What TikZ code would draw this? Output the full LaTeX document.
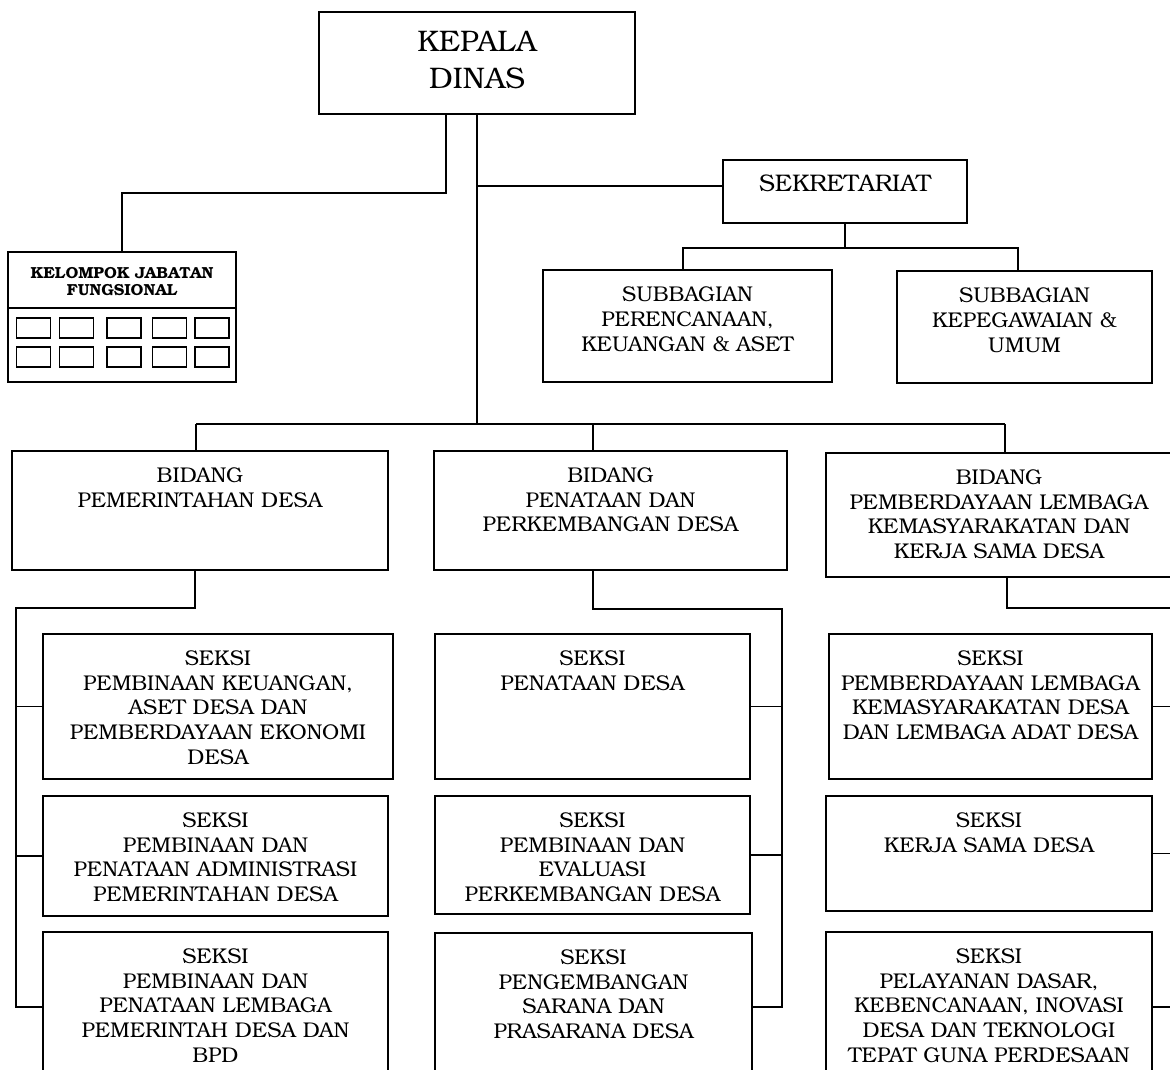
\documentclass[tikz,border=0pt]{standalone}
\usepackage{fontspec}
\setmainfont{TeX Gyre Bonum}
\begin{document}
\begin{tikzpicture}[x=0.75pt,y=-0.75pt,
  bx/.style 2 args={draw, line width=1.3pt, inner sep=0pt, minimum width=#1*0.75pt, minimum height=#2*0.75pt},
  lbl/.style={font=\fontsize{16pt}{18.6pt}\selectfont, align=center, inner sep=0pt, anchor=north},
  ln/.style={line width=1.2pt}]
\useasboundingbox (0,0) rectangle (1170,1070);
\clip (0,0) rectangle (1170,1070);

% top
\node[bx={316}{102}] (kd) at (477,63) {};
\node[lbl, font=\fontsize{22.3pt}{27.75pt}\selectfont] (kdt) at ([yshift=-15pt]kd.north) {KEPALA\\DINAS};

\node[bx={244}{63}] (sek) at (845,191.5) {};
\node[lbl, font=\fontsize{18pt}{20pt}\selectfont] (sekt) at ([yshift=-11.25pt]sek.north) {SEKRETARIAT};

\node[bx={289}{112}] (sp) at (687.5,326) {};
\node[lbl] (spt) at ([yshift=-13pt]sp.north) {SUBBAGIAN\\PERENCANAAN,\\KEUANGAN \& ASET};
\node[bx={255}{112}] (sk) at (1024.5,327) {};
\node[lbl] (skt) at ([yshift=-13pt]sk.north) {SUBBAGIAN\\KEPEGAWAIAN \&\\UMUM};

% kelompok jabatan fungsional
\node[bx={228}{130}] (kjf) at (122,317) {};
\node[lbl, font=\bfseries\fontsize{12pt}{12.6pt}\selectfont] (kjft) at ([yshift=-12pt]kjf.north) {KELOMPOK JABATAN\\FUNGSIONAL};
\draw[ln] ([yshift=6.75pt]kjf.west) -- ([yshift=6.75pt]kjf.east);
\foreach \x [count=\i] in {33.5,76.5,124,169.5,212} {
  \node[bx={34}{20}, line width=1.1pt] (sa\i) at (\x,328) {};
  \node[bx={34}{20}, line width=1.1pt] (sb\i) at (\x,357) {};
}

% bidang
\node[bx={376}{119}] (b1) at (200,510.5) {};
\node[lbl] (b1t) at ([yshift=-12.75pt]b1.north) {BIDANG\\PEMERINTAHAN DESA};
\node[bx={353}{119}] (b2) at (610.5,510.5) {};
\node[lbl] (b2t) at ([yshift=-12.75pt]b2.north) {BIDANG\\PENATAAN DAN\\PERKEMBANGAN DESA};
\node[bx={346}{124}] (b3) at (999,515) {};
\node[lbl] (b3t) at ([yshift=-12.75pt]b3.north) {BIDANG\\PEMBERDAYAAN LEMBAGA\\KEMASYARAKATAN DAN\\KERJA SAMA DESA};

% seksi left
\node[bx={350}{145}] (l1) at (218,706.5) {};
\node[lbl] (l1t) at ([yshift=-12.75pt]l1.north) {SEKSI\\PEMBINAAN KEUANGAN,\\ASET DESA DAN\\PEMBERDAYAAN EKONOMI\\DESA};
\node[bx={345}{120}] (l2) at (215.5,856) {};
\node[lbl] (l2t) at ([yshift=-12.75pt]l2.north) {SEKSI\\PEMBINAAN DAN\\PENATAAN ADMINISTRASI\\PEMERINTAHAN DESA};
\node[bx={345}{168}] (l3) at (215.5,1016) {};
\node[lbl] (l3t) at ([yshift=-12.75pt]l3.north) {SEKSI\\PEMBINAAN DAN\\PENATAAN LEMBAGA\\PEMERINTAH DESA DAN\\BPD};

% seksi middle
\node[bx={315}{145}] (m1) at (592.5,706.5) {};
\node[lbl] (m1t) at ([yshift=-12.75pt]m1.north) {SEKSI\\PENATAAN DESA};
\node[bx={315}{118}] (m2) at (592.5,855) {};
\node[lbl] (m2t) at ([yshift=-12.75pt]m2.north) {SEKSI\\PEMBINAAN DAN\\EVALUASI\\PERKEMBANGAN DESA};
\node[bx={317}{167}] (m3) at (593.5,1016.5) {};
\node[lbl] (m3t) at ([yshift=-12.75pt]m3.north) {SEKSI\\PENGEMBANGAN\\SARANA DAN\\PRASARANA DESA};

% seksi right
\node[bx={323}{145}] (r1) at (990.5,706.5) {};
\node[lbl] (r1t) at ([yshift=-12.75pt]r1.north) {SEKSI\\PEMBERDAYAAN LEMBAGA\\KEMASYARAKATAN DESA\\DAN LEMBAGA ADAT DESA};
\node[bx={326}{115}] (r2) at (989,853.5) {};
\node[lbl] (r2t) at ([yshift=-12.75pt]r2.north) {SEKSI\\KERJA SAMA DESA};
\node[bx={326}{168}] (r3) at (989,1016) {};
\node[lbl] (r3t) at ([yshift=-12.75pt]r3.north) {SEKSI\\PELAYANAN DASAR,\\KEBENCANAAN, INOVASI\\DESA DAN TEKNOLOGI\\TEPAT GUNA PERDESAAN};

% connectors: top
\draw[ln] ([xshift=-23.25pt]kd.south) -- ++(0,78) -| (kjf.north);
\coordinate (bus) at (477,424);
\draw[ln] (kd.south) -- (bus);
\coordinate (sekin) at ([yshift=4pt]sek.west);
\draw[ln] (kd.south |- sekin) -- (sekin);
\coordinate (sL) at (683,248);
\coordinate (sR) at (1018,248);
\draw[ln] (sek.south) -- (sek.south |- sL);
\draw[ln] (sL |- sp.north) -- (sL) -- (sR) -- (sR |- sk.north);

% bus to bidang
\coordinate (busL) at (196,424);
\coordinate (busM) at (593,424);
\coordinate (busR) at (1005,424);
\draw[ln] (busL) -- (busR);
\draw[ln] (busL) -- (busL |- b1.north);
\draw[ln] (busM) -- (busM |- b2.north);
\draw[ln] (busR) -- (busR |- b3.north);

% left column
\coordinate (ld) at (195,608);
\coordinate (lv) at (16,608);
\coordinate (lend) at (16,1007);
\draw[ln] (ld |- b1.south) -- (ld) -- (lv) -- (lend) -- (lend -| l3.west);
\draw[ln] (lv |- l1.west) -- (l1.west);
\draw[ln] (lv |- l2.west) -- (l2.west);

% middle column
\coordinate (md) at (593,609);
\coordinate (mv) at (782,609);
\coordinate (mend) at (782,1007);
\draw[ln] (md |- b2.south) -- (md) -- (mv) -- (mend) -- (mend -| m3.east);
\draw[ln] (mv |- m1.east) -- (m1.east);
\draw[ln] (mv |- m2.east) -- (m2.east);

% right column
\coordinate (rd) at (1007,608);
\coordinate (rv) at (1185,608);
\coordinate (rend) at (1185,1007);
\draw[ln] (rd |- b3.south) -- (rd) -- (rv) -- (rend) -- (rend -| r3.east);
\draw[ln] (rv |- r1.east) -- (r1.east);
\draw[ln] (rv |- r2.east) -- (r2.east);
\end{tikzpicture}
\end{document}
